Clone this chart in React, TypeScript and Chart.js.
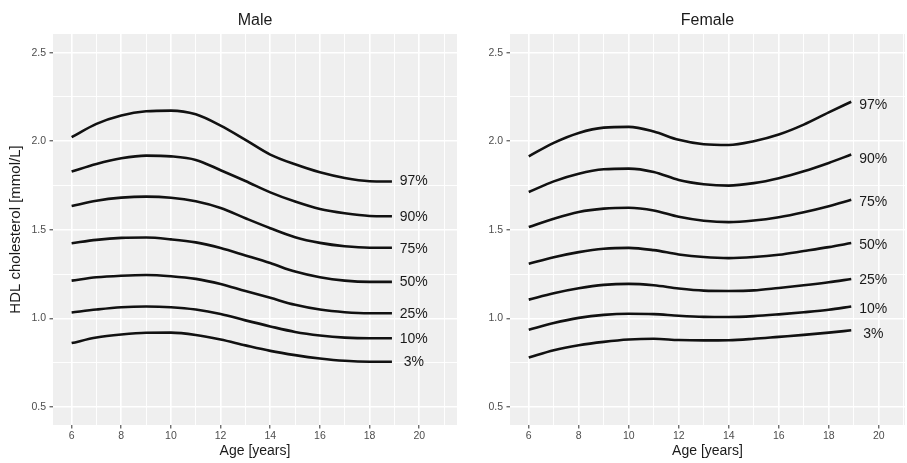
import React, { useEffect, useRef } from 'react';
import { Chart, registerables } from 'chart.js';

Chart.register(...registerables);

// ---------- data ----------
const ages = [6, 7, 8, 9, 10, 11, 12, 13, 14, 15, 16, 17, 18, 18.9];
const percentileNames = ['97%', '90%', '75%', '50%', '25%', '10%', '3%'];

const maleP97 = [2.023, 2.098, 2.145, 2.169, 2.173, 2.152, 2.088, 2.008, 1.925, 1.87, 1.825, 1.793, 1.775, 1.773];
const maleP90 = [1.829, 1.872, 1.904, 1.919, 1.915, 1.895, 1.837, 1.776, 1.712, 1.66, 1.618, 1.594, 1.579, 1.577];
const maleP75 = [1.635, 1.665, 1.682, 1.688, 1.682, 1.662, 1.624, 1.566, 1.51, 1.459, 1.427, 1.408, 1.4, 1.4];
const maleP50 = [1.425, 1.444, 1.455, 1.457, 1.447, 1.43, 1.398, 1.356, 1.313, 1.265, 1.233, 1.214, 1.207, 1.207];
const maleP25 = [1.214, 1.233, 1.242, 1.246, 1.239, 1.224, 1.195, 1.155, 1.117, 1.078, 1.051, 1.036, 1.03, 1.03];
const maleP10 = [1.034, 1.051, 1.064, 1.068, 1.064, 1.051, 1.026, 0.99, 0.956, 0.925, 0.905, 0.893, 0.889, 0.889];
const maleP3 = [0.862, 0.893, 0.91, 0.92, 0.921, 0.908, 0.882, 0.849, 0.818, 0.794, 0.775, 0.762, 0.757, 0.757];

const femaleP97 = [1.915, 1.991, 2.047, 2.077, 2.081, 2.055, 2.008, 1.983, 1.979, 2.0, 2.038, 2.094, 2.163, 2.223];
const femaleP90 = [1.714, 1.774, 1.817, 1.842, 1.846, 1.827, 1.782, 1.758, 1.75, 1.764, 1.792, 1.831, 1.878, 1.925];
const femaleP75 = [1.516, 1.563, 1.601, 1.62, 1.625, 1.61, 1.574, 1.552, 1.544, 1.553, 1.572, 1.6, 1.634, 1.67];
const femaleP50 = [1.309, 1.346, 1.375, 1.394, 1.399, 1.386, 1.362, 1.347, 1.341, 1.347, 1.36, 1.381, 1.403, 1.426];
const femaleP25 = [1.107, 1.143, 1.171, 1.19, 1.196, 1.188, 1.17, 1.158, 1.156, 1.159, 1.173, 1.188, 1.205, 1.223];
const femaleP10 = [0.937, 0.975, 1.004, 1.021, 1.027, 1.025, 1.016, 1.01, 1.009, 1.014, 1.024, 1.036, 1.05, 1.068];
const femaleP3 = [0.781, 0.822, 0.85, 0.869, 0.882, 0.886, 0.879, 0.877, 0.878, 0.886, 0.897, 0.908, 0.921, 0.934];

// label anchor positions (age, value)
const labelAge = 19.78;
const maleLabelValues = [1.774, 1.573, 1.393, 1.205, 1.026, 0.885, 0.757];
const femaleLabelValues = [2.203, 1.902, 1.659, 1.415, 1.218, 1.054, 0.912];

const xTickValues = [6, 7, 8, 9, 10, 11, 12, 13, 14, 15, 16, 17, 18, 19, 20, 21];
const yTickValues = [0.5, 0.75, 1.0, 1.25, 1.5, 1.75, 2.0, 2.25, 2.5];

const maleSeries = [maleP97, maleP90, maleP75, maleP50, maleP25, maleP10, maleP3];
const femaleSeries = [femaleP97, femaleP90, femaleP75, femaleP50, femaleP25, femaleP10, femaleP3];

// ---------- styling ----------
const FONT = "'Liberation Sans', Arial, Helvetica, sans-serif";
const PANEL_BG = '#efefef';
const TEXT_DARK = '#1a1a1a';
const TEXT_TICK = '#4d4d4d';

const isMajorX = (v: number) => Math.abs(v % 2) < 1e-6;
const isMajorY = (v: number) => Math.abs(v * 2 - Math.round(v * 2)) < 1e-6;

const panelPlugin = {
  id: 'panelDeco',
  beforeDraw(chart: any) {
    const { ctx, chartArea: a } = chart;
    ctx.save();
    ctx.fillStyle = PANEL_BG;
    ctx.fillRect(a.left, a.top, a.right - a.left, a.bottom - a.top);
    ctx.restore();
  },
  afterDatasetsDraw(chart: any, _args: any, opts: any) {
    const { ctx, chartArea: a } = chart;
    const xs = chart.scales.x;
    const ys = chart.scales.y;
    ctx.save();
    ctx.fillStyle = TEXT_DARK;
    ctx.textAlign = 'center';
    ctx.textBaseline = 'middle';
    ctx.font = `14px ${FONT}`;
    opts.names.forEach((t: string, i: number) => {
      ctx.fillText(t, xs.getPixelForValue(opts.labelAge), ys.getPixelForValue(opts.labelValues[i]));
    });
    ctx.font = `16px ${FONT}`;
    ctx.fillText(opts.title, (a.left + a.right) / 2, opts.titleY);
    ctx.restore();
  },
};

type PanelSpec = {
  title: string;
  series: number[][];
  labelValues: number[];
  xMin: number;
  xMax: number;
  yAxisWidth: number;
  rightPad: number;
  showYTitle: boolean;
};

function makeConfig(p: PanelSpec): any {
  return {
    type: 'line',
    data: {
      datasets: p.series.map((vals, i) => ({
        label: percentileNames[i],
        data: vals.map((v, j) => ({ x: ages[j], y: v })),
        borderColor: '#111111',
        borderWidth: 2.6,
        pointRadius: 0,
        cubicInterpolationMode: 'monotone',
        fill: false,
        borderCapStyle: 'butt',
        borderJoinStyle: 'round',
      })),
    },
    options: {
      responsive: false,
      animation: false,
      devicePixelRatio: 1,
      layout: { padding: { top: 34, right: p.rightPad, left: 0, bottom: 0 } },
      plugins: {
        legend: { display: false },
        tooltip: { enabled: false },
        title: { display: false },
        panelDeco: {
          title: p.title,
          titleY: 20.5,
          names: percentileNames,
          labelAge: labelAge,
          labelValues: p.labelValues,
        },
      },
      scales: {
        x: {
          type: 'linear',
          min: p.xMin,
          max: p.xMax,
          afterBuildTicks: (scale: any) => {
            scale.ticks = xTickValues.map((v) => ({ value: v }));
          },
          afterFit: (scale: any) => {
            scale.height = 38;
          },
          border: { display: false },
          grid: {
            color: '#ffffff',
            lineWidth: (c: any) => (c.tick && isMajorX(c.tick.value) ? 1.6 : 0.9),
            drawTicks: true,
            tickLength: 3.5,
            tickWidth: 1,
            tickColor: (c: any) => (c.tick && isMajorX(c.tick.value) ? '#333333' : 'rgba(0,0,0,0)'),
          },
          ticks: {
            autoSkip: false,
            maxRotation: 0,
            padding: 1,
            color: TEXT_TICK,
            font: { family: FONT, size: 10.5 },
            callback: (v: number) => (isMajorX(v) ? String(v) : ''),
          },
          title: {
            display: true,
            text: 'Age [years]',
            color: TEXT_DARK,
            font: { family: FONT, size: 14 },
            padding: { top: 0, bottom: 3.4 },
          },
        },
        y: {
          type: 'linear',
          min: 0.4,
          max: 2.605,
          afterBuildTicks: (scale: any) => {
            scale.ticks = yTickValues.map((v) => ({ value: v }));
          },
          afterFit: (scale: any) => {
            scale.width = p.yAxisWidth;
          },
          border: { display: false },
          grid: {
            color: '#ffffff',
            lineWidth: (c: any) => (c.tick && isMajorY(c.tick.value) ? 1.6 : 0.9),
            drawTicks: true,
            tickLength: 3.5,
            tickWidth: 1,
            tickColor: (c: any) => (c.tick && isMajorY(c.tick.value) ? '#333333' : 'rgba(0,0,0,0)'),
          },
          ticks: {
            autoSkip: false,
            padding: 3.5,
            color: TEXT_TICK,
            font: { family: FONT, size: 10.5 },
            callback: (v: number) => (isMajorY(v) ? v.toFixed(1) : ''),
          },
          title: {
            display: p.showYTitle,
            text: 'HDL cholesterol [mmol/L]',
            color: TEXT_DARK,
            font: { family: FONT, size: 15 },
            padding: { top: 7, bottom: 0 },
          },
        },
      },
    },
    plugins: [panelPlugin],
  };
}

function Panel(props: { spec: PanelSpec; left: number; width: number }) {
  const ref = useRef<HTMLCanvasElement | null>(null);
  useEffect(() => {
    if (!ref.current) return;
    const chart = new Chart(ref.current, makeConfig(props.spec));
    return () => chart.destroy();
  }, []);
  return (
    <canvas
      ref={ref}
      width={props.width}
      height={463}
      style={{ position: 'absolute', left: props.left, top: 0, width: props.width, height: 463 }}
    />
  );
}

export default function App() {
  const male: PanelSpec = {
    title: 'Male',
    series: maleSeries,
    labelValues: maleLabelValues,
    xMin: 5.25,
    xMax: 21.52,
    yAxisWidth: 53,
    rightPad: 3,
    showYTitle: true,
  };
  const female: PanelSpec = {
    title: 'Female',
    series: femaleSeries,
    labelValues: femaleLabelValues,
    xMin: 5.25,
    xMax: 21.05,
    yAxisWidth: 50,
    rightPad: 2,
    showYTitle: false,
  };
  return (
    <div style={{ position: 'absolute', left: 0, top: 0, width: 907, height: 463, background: '#ffffff' }}>
      <Panel spec={male} left={0} width={460} />
      <Panel spec={female} left={460} width={447} />
    </div>
  );
}
